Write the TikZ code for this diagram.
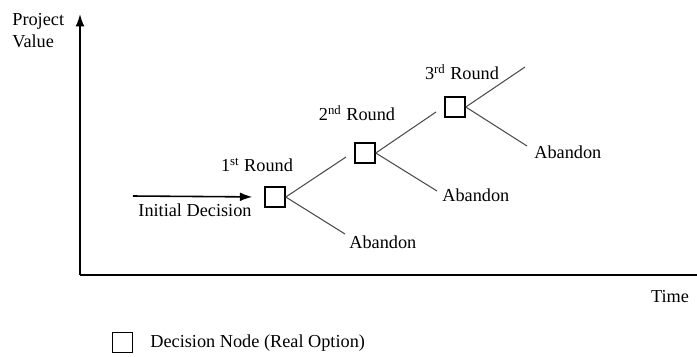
\documentclass[tikz,border=0pt]{standalone}
\usepackage{fontspec}
\setmainfont{Liberation Serif}
\newfontfamily\lblfont{Liberation Serif}
\usetikzlibrary{arrows.meta}

\tikzset{
	optbox/.style={draw, line width=0.9pt, minimum size=0.4cm, inner sep=0pt},
	branch/.style={line width=0.6pt, draw=black!70},
	axis/.style={line width=0.9pt},
	lbl/.style={inner sep=0pt, font=\lblfont\fontsize{10.4}{12.5}\selectfont},
}

\begin{document}
\begin{tikzpicture}[x=0.02cm, y=-0.02cm]
	\useasboundingbox (0, 0) rectangle (697, 356);
	% Axes:
	\coordinate (O) at (80, 275);
	\coordinate (Ytop) at (80, 14);
	\coordinate (Xend) at (697, 275);
	\draw[axis, -{Latex[length=7pt, width=5pt]}] (O) -- (Ytop);
	\draw[axis] (O) -- (Xend);
	\draw node[lbl, anchor=west, align=left] (yl) at (12, 31) {Project\\Value};
	\draw node[lbl] (tl) at (670, 297) {Time};
	% Decision nodes:
	\draw node[optbox] (B1) at (275, 197) {};
	\draw node[optbox] (B2) at (365, 153) {};
	\draw node[optbox] (B3) at (455, 107) {};
	\draw node[lbl] (R1) at (257, 165) {1\textsuperscript{st} Round};
	\draw node[lbl] (R2) at (357, 113) {2\textsuperscript{nd} Round};
	\draw node[lbl] (R3) at (462, 72) {3\textsuperscript{rd} Round};
	% Initial decision:
	\coordinate (S) at (133, 196);
	\draw[axis, -{Latex[length=7pt, width=5pt]}, shorten >=6.8pt] (S) -- (B1.west);
	\draw node[lbl] (ID) at (195, 210) {Initial Decision};
	% Branches:
	\coordinate (U1) at (346, 157);
	\coordinate (U2) at (436, 112);
	\coordinate (U3) at (525, 67);
	\coordinate (L1) at (345, 234);
	\coordinate (L2) at (437, 191);
	\coordinate (L3) at (527, 146);
	\draw[branch] (B1.east) -- (U1);
	\draw[branch] (B2.east) -- (U2);
	\draw[branch] (B3.east) -- (U3);
	\draw[branch] (B1.east) -- (L1);
	\draw[branch] (B2.east) -- (L2);
	\draw[branch] (B3.east) -- (L3);
	\draw node[lbl, anchor=west] (A1) at (349, 242) {Abandon};
	\draw node[lbl, anchor=west] (A2) at (442, 195) {Abandon};
	\draw node[lbl, anchor=west] (A3) at (534, 152) {Abandon};
	% Legend:
	\draw node[optbox, line width=0.7pt] (LB) at (122.5, 342.5) {};
	\draw node[lbl, anchor=west] (LT) at (150, 343) {Decision Node (Real Option)};
\end{tikzpicture}
\end{document}
